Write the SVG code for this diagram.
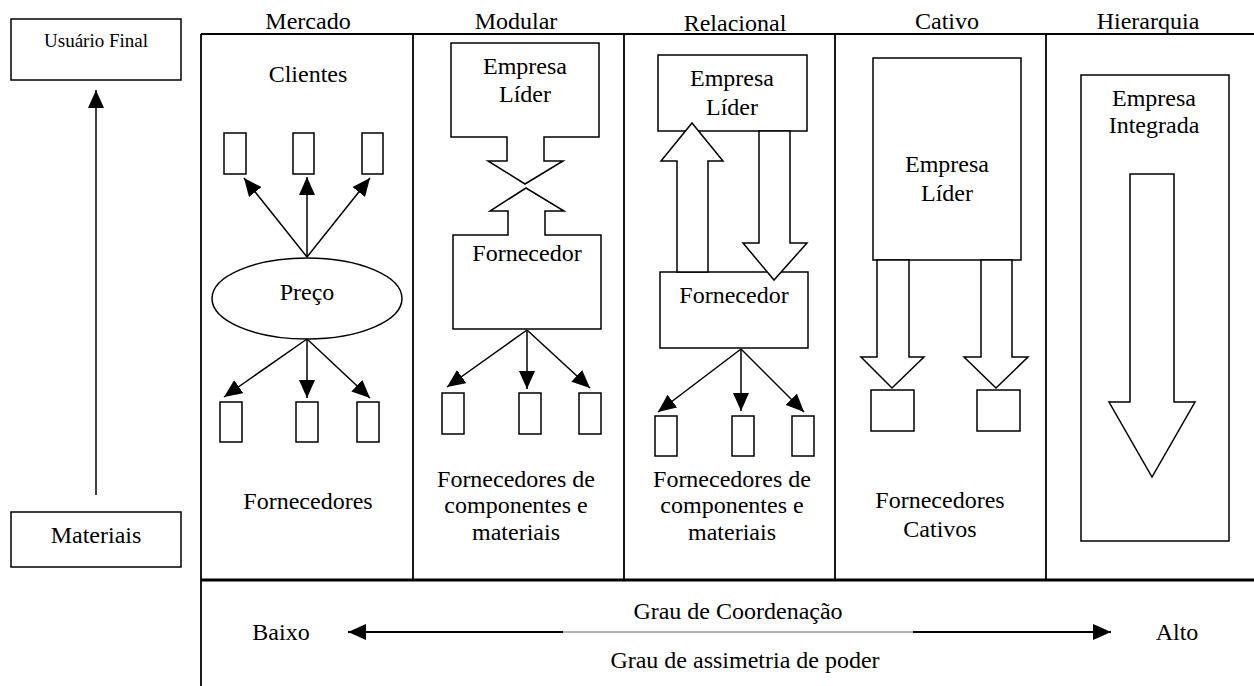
<svg xmlns="http://www.w3.org/2000/svg" width="1254" height="686" viewBox="0 0 1254 686">
  <style>
    text { font-family: "Liberation Serif", "Times New Roman", serif; font-size: 24px; fill: #000; text-anchor: middle; }
    .small { font-size: 19px; }
    .box { fill: #fff; stroke: #000; stroke-width: 1.5; }
    .frame { fill: none; stroke: #000; stroke-width: 1.8; }
    .thick { fill: none; stroke: #000; stroke-width: 3; }
    .link { fill: none; stroke: #000; stroke-width: 1.5; marker-end: url(#head); }
    .axis { fill: none; stroke: #000; stroke-width: 2; }
    .thin { fill: none; stroke: #666; stroke-width: 1; }
  </style>
  <defs>
    <marker id="head" viewBox="0 0 18 16" refX="18" refY="8" markerWidth="18" markerHeight="16" markerUnits="userSpaceOnUse" orient="auto">
      <path d="M0,0 L18,8 L0,16 Z" fill="#000"/>
    </marker>
  </defs>

  <rect width="1254" height="686" fill="#fff"/>

  <!-- frame of the five governance columns -->
  <g id="frame">
    <line class="frame" x1="201" y1="34" x2="1254" y2="34"/>
    <line class="frame" x1="201" y1="34" x2="201" y2="686"/>
    <line class="frame" x1="413" y1="34" x2="413" y2="580"/>
    <line class="frame" x1="624" y1="34" x2="624" y2="580"/>
    <line class="frame" x1="835" y1="34" x2="835" y2="580"/>
    <line class="frame" x1="1046" y1="34" x2="1046" y2="580"/>
    <line class="thick" x1="201" y1="580" x2="1254" y2="580"/>
    <text x="308" y="29">Mercado</text>
    <text x="516" y="29">Modular</text>
    <text x="735" y="31">Relacional</text>
    <text x="947" y="29">Cativo</text>
    <text x="1148" y="29">Hierarquia</text>
  </g>

  <!-- value chain axis on the left -->
  <g id="usuario-final">
    <rect class="box" x="11" y="19" width="170" height="61"/>
    <text class="small" x="96" y="47">Usuário Final</text>
  </g>
  <g id="materiais">
    <rect class="box" x="11" y="512" width="170" height="55"/>
    <text x="96" y="543">Materiais</text>
  </g>

  <!-- Mercado -->
  <g id="mercado">
    <text x="308" y="82">Clientes</text>
    <rect class="box" x="224" y="133" width="22" height="41"/>
    <rect class="box" x="293" y="133" width="21" height="41"/>
    <rect class="box" x="362" y="133" width="21" height="41"/>
    <ellipse class="box" cx="307" cy="298.5" rx="95" ry="40.5"/>
    <text x="307" y="300">Preço</text>
    <rect class="box" x="220" y="402" width="22" height="40"/>
    <rect class="box" x="296" y="402" width="22" height="40"/>
    <rect class="box" x="357" y="402" width="22" height="40"/>
    <text x="308" y="509">Fornecedores</text>
  </g>

  <!-- Modular -->
  <g id="modular">
    <path class="box" d="M451,43 H599 V137 H544 V161 H563 L525,184 L488,161 H507 V137 H451 Z"/>
    <text x="525" y="74">Empresa</text>
    <text x="525" y="102">Líder</text>
    <path class="box" d="M526,188 L564,211 H545 V235 H601 V329 H453 V235 H508 V211 H490 Z"/>
    <text x="527" y="261">Fornecedor</text>
    <rect class="box" x="442" y="393" width="22" height="41"/>
    <rect class="box" x="519" y="393" width="22" height="41"/>
    <rect class="box" x="579" y="393" width="22" height="41"/>
    <text x="516" y="487">Fornecedores de</text>
    <text x="516" y="513">componentes e</text>
    <text x="516" y="540">materiais</text>
  </g>

  <!-- Relacional -->
  <g id="relacional">
    <rect class="box" x="658" y="55" width="149" height="76"/>
    <text x="732" y="86">Empresa</text>
    <text x="732" y="115">Líder</text>
    <rect class="box" x="660" y="272" width="148" height="76"/>
    <text x="734" y="303">Fornecedor</text>
    <!-- block arrows drawn over both boxes -->
    <path class="box" d="M692,123 L723,161 H708 V272 H677 V161 H661 Z"/>
    <path class="box" d="M759,131 H790 V243 H807 L774,280 L743,243 H759 Z"/>
    <rect class="box" x="655" y="416" width="22" height="40"/>
    <rect class="box" x="732" y="416" width="22" height="40"/>
    <rect class="box" x="792" y="416" width="22" height="40"/>
    <text x="732" y="487">Fornecedores de</text>
    <text x="732" y="513">componentes e</text>
    <text x="732" y="540">materiais</text>
  </g>

  <!-- Cativo -->
  <g id="cativo">
    <rect class="box" x="873" y="58" width="148" height="202"/>
    <text x="947" y="172">Empresa</text>
    <text x="947" y="201">Líder</text>
    <path class="box" d="M877,260 H909 V357 H924 L892,388 L861,357 H877 Z"/>
    <path class="box" d="M981,260 H1012 V357 H1028 L996,388 L964,357 H981 Z"/>
    <rect class="box" x="871" y="390" width="43" height="41"/>
    <rect class="box" x="977" y="390" width="43" height="41"/>
    <text x="940" y="508">Fornecedores</text>
    <text x="940" y="537">Cativos</text>
  </g>

  <!-- Hierarquia -->
  <g id="hierarquia">
    <rect class="box" x="1081" y="75" width="148" height="466"/>
    <text x="1154" y="106">Empresa</text>
    <text x="1154" y="133">Integrada</text>
    <path class="box" d="M1130,174 H1174 V402 H1195 L1152,477 L1109,402 H1130 Z"/>
  </g>

  <!-- coordination scale -->
  <g id="escala">
    <text x="738" y="619">Grau de Coordenação</text>
    <text x="281" y="640">Baixo</text>
    <text x="1177" y="640">Alto</text>
    <text x="745" y="668">Grau de assimetria de poder</text>
  </g>

  <!-- connectors -->
  <g id="connectors">
    <line class="link" x1="96" y1="495" x2="96" y2="90"/>
    <line class="link" x1="307" y1="257" x2="244" y2="178"/>
    <line class="link" x1="307" y1="257" x2="307" y2="177"/>
    <line class="link" x1="307" y1="257" x2="370" y2="178"/>
    <line class="link" x1="307" y1="339" x2="224" y2="397"/>
    <line class="link" x1="307" y1="339" x2="307" y2="398"/>
    <line class="link" x1="307" y1="339" x2="370" y2="398"/>
    <line class="link" x1="527" y1="330" x2="447" y2="387"/>
    <line class="link" x1="527" y1="330" x2="527" y2="389"/>
    <line class="link" x1="527" y1="330" x2="590" y2="388"/>
    <line class="link" x1="741" y1="349" x2="658" y2="412"/>
    <line class="link" x1="741" y1="349" x2="741" y2="411"/>
    <line class="link" x1="741" y1="349" x2="804" y2="412"/>
    <line class="thin" x1="563" y1="632" x2="913" y2="632"/>
    <line class="axis" x1="563" y1="632" x2="348" y2="632" marker-end="url(#head)"/>
    <line class="axis" x1="913" y1="632" x2="1111" y2="632" marker-end="url(#head)"/>
  </g>
</svg>
